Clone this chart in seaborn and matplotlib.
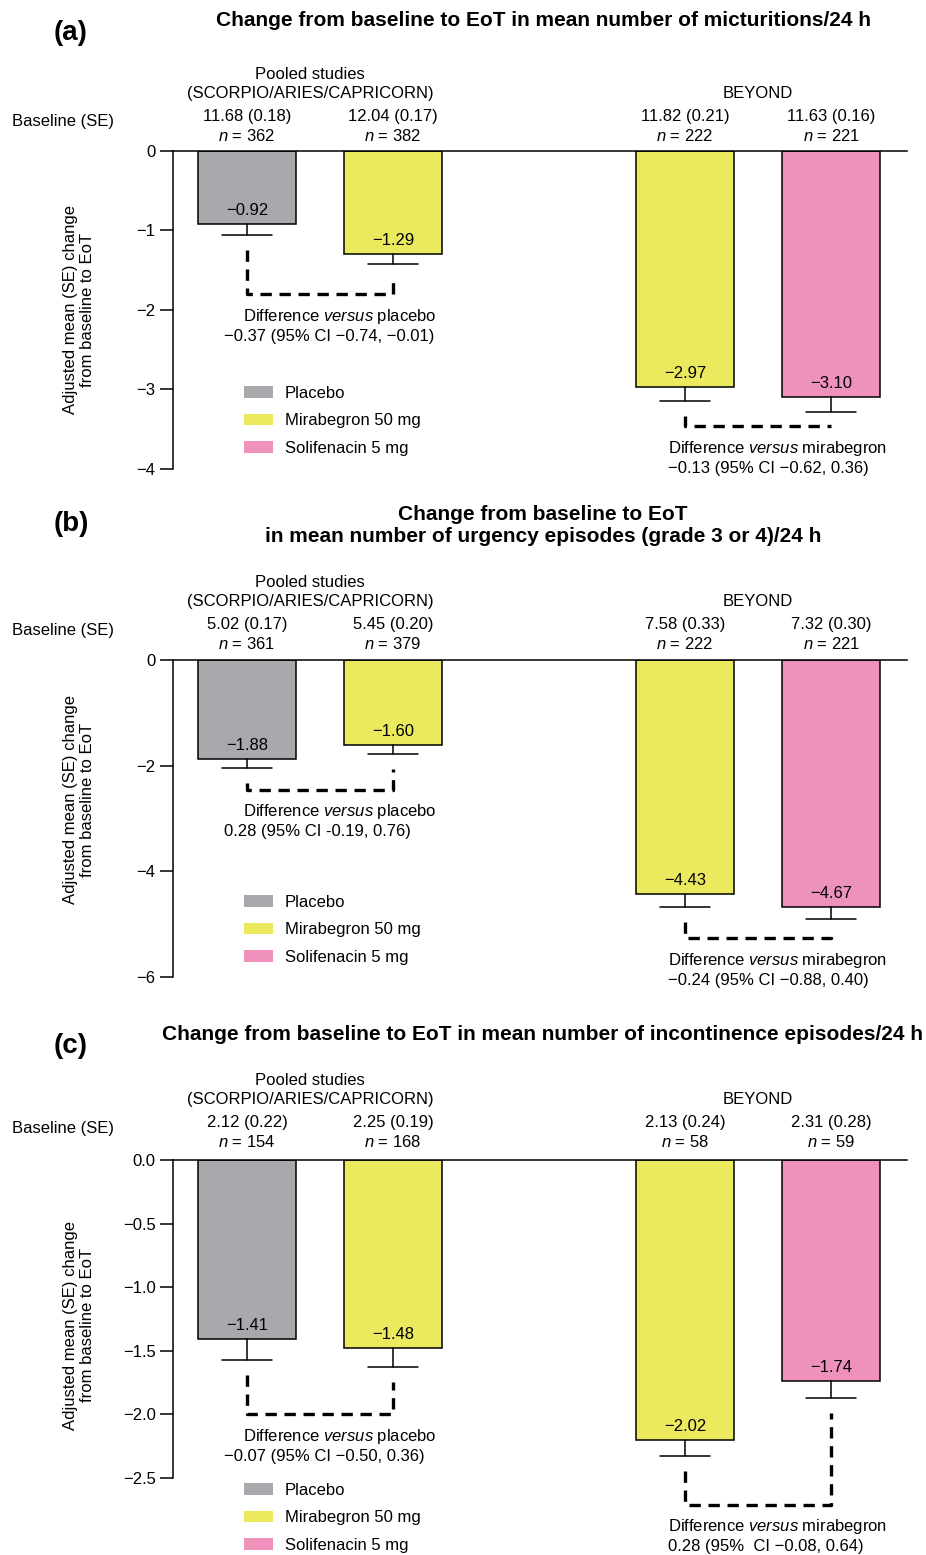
import pandas as pd
import seaborn as sns
import matplotlib.pyplot as plt
from matplotlib.patches import Patch

sns.set_style("ticks")
plt.rcParams['font.family'] = ['Liberation Sans', 'DejaVu Sans']
plt.rcParams['mathtext.fontset'] = 'custom'
plt.rcParams['mathtext.rm'] = 'Liberation Sans'
plt.rcParams['mathtext.it'] = 'Liberation Sans:italic'
for key in ['text.color', 'axes.labelcolor', 'xtick.color', 'ytick.color', 'axes.edgecolor']:
    plt.rcParams[key] = 'black'

# shared layout of the bars
groups = ["Pooled", "Pooled", "BEYOND", "BEYOND"]
treatments = ["Placebo", "Mirabegron 50 mg", "Mirabegron 50 mg", "Solifenacin 5 mg"]
legend_order = ["Placebo", "Mirabegron 50 mg", "Solifenacin 5 mg"]
colors = {"Placebo": "#a8a9ac", "Mirabegron 50 mg": "#ebe95e", "Solifenacin 5 mg": "#ef92bb"}
group_titles = {"Pooled": "Pooled studies\n(SCORPIO/ARIES/CAPRICORN)", "BEYOND": "BEYOND"}

# (a) micturitions
a_means = [-0.92, -1.29, -2.97, -3.10]
a_se = [0.14, 0.13, 0.18, 0.18]
a_labels = ["−0.92", "−1.29", "−2.97", "−3.10"]
a_baseline = ["11.68 (0.18)", "12.04 (0.17)", "11.82 (0.21)", "11.63 (0.16)"]
a_n = [362, 382, 222, 221]
a_bracket = [-1.80, -3.46]
a_diff = ["−0.37 (95% CI −0.74, −0.01)", "−0.13 (95% CI −0.62, 0.36)"]
a_ticks = [0, -1, -2, -3, -4]
a_ticklabels = ["0", "−1", "−2", "−3", "−4"]

# (b) urgency episodes
b_means = [-1.88, -1.60, -4.43, -4.67]
b_se = [0.17, 0.17, 0.24, 0.24]
b_labels = ["−1.88", "−1.60", "−4.43", "−4.67"]
b_baseline = ["5.02 (0.17)", "5.45 (0.20)", "7.58 (0.33)", "7.32 (0.30)"]
b_n = [361, 379, 222, 221]
b_bracket = [-2.46, -5.27]
b_diff = ["0.28 (95% CI -0.19, 0.76)", "−0.24 (95% CI −0.88, 0.40)"]
b_ticks = [0, -2, -4, -6]
b_ticklabels = ["0", "−2", "−4", "−6"]

# (c) incontinence episodes
c_means = [-1.41, -1.48, -2.20, -1.74]
c_se = [0.16, 0.15, 0.13, 0.13]
c_labels = ["−1.41", "−1.48", "−2.02", "−1.74"]
c_baseline = ["2.12 (0.22)", "2.25 (0.19)", "2.13 (0.24)", "2.31 (0.28)"]
c_n = [154, 168, 58, 59]
c_bracket = [-2.00, -2.71]
c_diff = ["−0.07 (95% CI −0.50, 0.36)", "0.28 (95%  CI −0.08, 0.64)"]
c_ticks = [0.0, -0.5, -1.0, -1.5, -2.0, -2.5]
c_ticklabels = ["0.0", "−0.5", "−1.0", "−1.5", "−2.0", "−2.5"]

diff_names = ["placebo", "mirabegron"]

W, H = 926, 1555
FS = 12
fig = plt.figure(figsize=(W / 100, H / 100), dpi=100)


def draw_panel(top_px, bottom_px, means, se, labels, baseline, n, bracket, diff,
               ticks, ticklabels, legend_y, ylabel_y, head_shift=0):
    ax = fig.add_axes([173 / W, 1 - bottom_px / H, (907 - 173) / W, (bottom_px - top_px) / H])
    pos = [i + (1 if g == "BEYOND" else 0) for i, g in enumerate(groups)]
    df = pd.DataFrame({"pos": pos, "mean": means, "se": se, "treatment": treatments})
    sns.barplot(data=df, x="pos", y="mean", hue="treatment", palette=colors,
                native_scale=True, dodge=False, width=0.67, errorbar=None, saturation=1,
                edgecolor="black", linewidth=1.1, legend=False, ax=ax)
    ax.set_xlim(-0.507, 4.52)
    ax.set_ylim(ticks[-1], 0)
    px = -ticks[-1] / (bottom_px - top_px)  # data units per pixel

    # error bars (downward only)
    for p, m, s in zip(pos, means, se):
        ax.plot([p, p], [m, m - s], color="black", lw=1.1)
        ax.plot([p - 0.17, p + 0.17], [m - s, m - s], color="black", lw=1.1)

    # value labels inside bars
    for p, m, lab in zip(pos, means, labels):
        ax.annotate(lab, xy=(p, m), xytext=(0, 6), textcoords="offset pixels",
                    ha="center", va="bottom", fontsize=FS)

    # baseline / n headers
    hdr = ("data", "axes fraction")
    for p, b, k in zip(pos, baseline, n):
        ax.annotate(b, xy=(p, 1), xycoords=hdr, xytext=(0, 34 + head_shift),
                    textcoords="offset pixels", ha="center", va="center", fontsize=FS)
        ax.annotate(f"$n$ = {k}", xy=(p, 1), xycoords=hdr, xytext=(0, 15 + head_shift),
                    textcoords="offset pixels", ha="center", va="center", fontsize=FS)
    ax.annotate(group_titles["Pooled"], xy=(0.43, 1), xycoords=hdr,
                xytext=(0, 67 + head_shift), textcoords="offset pixels", ha="center",
                va="center", fontsize=FS, linespacing=1.4)
    ax.annotate(group_titles["BEYOND"], xy=(3.5, 1), xycoords=hdr,
                xytext=(0, 57 + head_shift), textcoords="offset pixels", ha="center",
                va="center", fontsize=FS)
    ax.annotate("Baseline (SE)", xy=(0, 1), xycoords="axes fraction",
                xytext=(12 - 173, 29 + head_shift), textcoords="offset pixels",
                ha="left", va="center", fontsize=FS)

    # dashed brackets and difference text
    text_x = [(-0.03, -0.16), (2.88, 2.88)]
    for k, (level, txt) in enumerate(zip(bracket, diff)):
        i0, i1 = 2 * k, 2 * k + 1
        y0 = max(means[i0] - se[i0] - 15 * px, level)
        y1 = max(means[i1] - se[i1] - 15 * px, level)
        ax.plot([pos[i0], pos[i0], pos[i1], pos[i1]], [y0, level, level, y1],
                color="black", lw=2.4, ls=(0, (3.4, 2.3)), clip_on=False)
        ax.annotate(f"Difference $\\mathit{{versus}}$ {diff_names[k]}",
                    xy=(text_x[k][0], level), xytext=(0, -22), textcoords="offset pixels",
                    ha="left", va="center", fontsize=FS, annotation_clip=False)
        ax.annotate(txt, xy=(text_x[k][1], level), xytext=(0, -42),
                    textcoords="offset pixels", ha="left", va="center", fontsize=FS,
                    annotation_clip=False)

    # axes styling
    sns.despine(ax=ax, top=False, right=True, bottom=True)
    ax.set_xticks([])
    ax.set_xlabel("")
    ax.set_yticks(ticks)
    ax.set_yticklabels(ticklabels)
    ax.tick_params(axis="y", length=9.5, width=1.1, labelsize=FS, pad=3)
    for side in ["left", "top"]:
        ax.spines[side].set_linewidth(1.1)
    ax.set_ylabel("Adjusted mean (SE) change\nfrom baseline to EoT", fontsize=FS,
                  linespacing=1.15)
    ax.yaxis.set_label_coords(-0.106, ylabel_y)

    handles = [Patch(facecolor=colors[t], edgecolor="none", label=t) for t in legend_order]
    ax.legend(handles=handles, loc="upper left", bbox_to_anchor=(0.097, legend_y),
              frameon=False, fontsize=FS, handlelength=1.75, handleheight=0.7,
              handletextpad=0.7, labelspacing=0.75, borderpad=0, borderaxespad=0)
    return ax


draw_panel(151, 469, a_means, a_se, a_labels, a_baseline, a_n, a_bracket, a_diff,
           a_ticks, a_ticklabels, 0.262, 0.5)
draw_panel(660, 977, b_means, b_se, b_labels, b_baseline, b_n, b_bracket, b_diff,
           b_ticks, b_ticklabels, 0.259, 0.56, head_shift=1)
draw_panel(1160, 1478, c_means, c_se, c_labels, c_baseline, c_n, c_bracket, c_diff,
           c_ticks, c_ticklabels, -0.015, 0.48, head_shift=3)

# titles and panel letters
fig.text(543 / W, 1 - 20 / H,
         "Change from baseline to EoT in mean number of micturitions/24 h",
         ha="center", va="center", fontsize=15, fontweight="bold")
fig.text(543 / W, 1 - 525.5 / H,
         "Change from baseline to EoT\nin mean number of urgency episodes (grade 3 or 4)/24 h",
         ha="center", va="center", fontsize=15, fontweight="bold", linespacing=1.15)
fig.text(543 / W, 1 - 1035 / H,
         "Change from baseline to EoT in mean number of incontinence episodes/24 h",
         ha="center", va="center", fontsize=15, fontweight="bold")
for letter, y in [("(a)", 33), ("(b)", 524), ("(c)", 1046)]:
    fig.text(71 / W, 1 - y / H, letter, ha="center", va="center", fontsize=20,
             fontweight="bold")

fig.savefig("out.png", dpi=100)
